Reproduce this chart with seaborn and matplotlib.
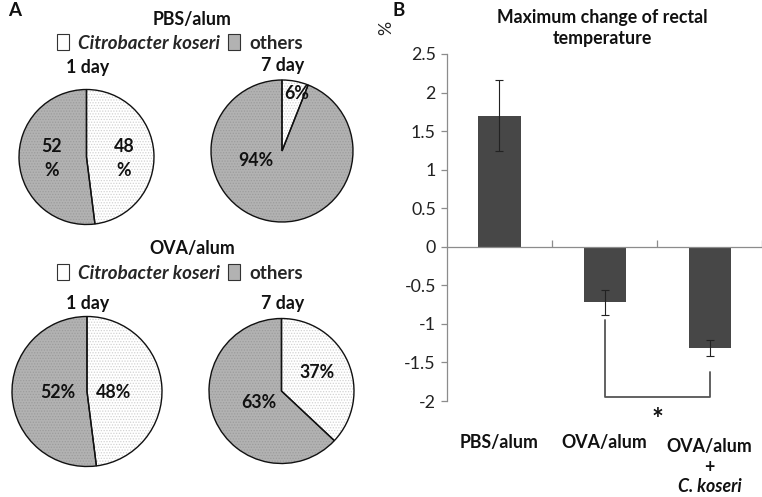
import matplotlib
matplotlib.use("Agg")
import matplotlib.pyplot as plt
import matplotlib.patches as mpatches
import seaborn as sns
import pandas as pd
import numpy as np

# ---------------- data ----------------
pie_groups = ["PBS/alum", "OVA/alum"]
pie_days = ["1 day", "7 day"]
pie_categories = ["Citrobacter koseri", "others"]
pbs_1day = [48, 52]
pbs_7day = [6, 94]
ova_1day = [48, 52]
ova_7day = [37, 63]

bar_groups = ["PBS/alum", "OVA/alum", "OVA/alum + C. koseri"]
bar_values = [1.70, -0.72, -1.31]
bar_errors = [0.46, 0.165, 0.10]
y_ticks = [-2, -1.5, -1, -0.5, 0, 0.5, 1, 1.5, 2, 2.5]

# ---------------- style ----------------
sns.set_theme(style="white")
plt.rcParams["font.family"] = ["Lato", "DejaVu Sans"]
plt.rcParams["hatch.linewidth"] = 0.6

W, H = 762, 497
fig = plt.figure(figsize=(W / 100, H / 100), dpi=100)

def fx(x):
    return x / W

def fy(y):
    return 1 - y / H

WHITE = "#ffffff"
GRAY = "#b2b2b2"
FS = 12.8


def draw_pie(values, cx, cy, r, label_texts, label_pos):
    ax = fig.add_axes([fx(cx - r - 2), fy(cy + r + 2), (2 * r + 4) / W, (2 * r + 4) / H])
    lim = (r + 2) / r
    # textured fill
    wedges, _ = ax.pie(values, colors=[WHITE, GRAY], startangle=90, counterclock=False,
                       wedgeprops=dict(linewidth=0, hatch="......", edgecolor="#9a9a9a"))
    wedges[0].set_edgecolor("#d2d2d2")
    wedges[1].set_edgecolor("#9c9c9c")
    # outlines
    ax.pie(values, colors=["none", "none"], startangle=90, counterclock=False,
           wedgeprops=dict(linewidth=1.0, edgecolor="#111111", fill=False))
    ax.set_xlim(-lim, lim)
    ax.set_ylim(-lim, lim)
    ax.set_aspect("equal")
    ax.axis("off")
    for txt, (px, py) in zip(label_texts, label_pos):
        ax.text((px - cx) / r, (cy - py) / r, txt, ha="center", va="center",
                fontsize=FS, fontweight="bold", color="#111111", linespacing=1.5)


draw_pie(pbs_1day, 86.5, 157, 67.5,
         [f"{pbs_1day[0]}\n%", f"{pbs_1day[1]}\n%"], [(124, 158), (52, 158)])
draw_pie(pbs_7day, 282, 151, 71,
         [f"{pbs_7day[0]}%", f"{pbs_7day[1]}%"], [(297, 93), (256, 160)])
draw_pie(ova_1day, 87, 391.5, 75,
         [f"{ova_1day[0]}%", f"{ova_1day[1]}%"], [(113, 393), (58, 393)])
draw_pie(ova_7day, 281.5, 391, 72.5,
         [f"{ova_7day[0]}%", f"{ova_7day[1]}%"], [(317, 373), (259, 402)])

# titles / legends for pies
TXT = dict(fontweight="bold", color="#111111")
fig.text(fx(8), fy(10), "A", fontsize=13.5, ha="left", va="center", **TXT)
fig.text(fx(393), fy(10), "B", fontsize=13.5, ha="left", va="center", **TXT)

for gname, ty, ly, dy1, dy7 in [(pie_groups[0], 20, 43, 68, 65),
                                (pie_groups[1], 249, 273, 303, 303)]:
    fig.text(fx(192), fy(ty), gname, fontsize=FS, ha="center", va="center", **TXT)
    handles = [mpatches.Patch(facecolor=WHITE, edgecolor="#333333", linewidth=0.8),
               mpatches.Patch(facecolor=GRAY, edgecolor="#333333", linewidth=0.8)]
    leg = fig.legend(handles, pie_categories, loc="center", bbox_to_anchor=(fx(180), fy(ly)),
                     ncol=2, frameon=False, handlelength=0.65, handleheight=0.95,
                     handletextpad=0.5, columnspacing=0.4,
                     prop=dict(weight="bold", size=13.5, family=["Lato", "DejaVu Sans"]))
    leg.get_texts()[0].set_style("italic")
    fig.text(fx(88), fy(dy1), pie_days[0], fontsize=FS, ha="center", va="center", **TXT)
    fig.text(fx(283), fy(dy7), pie_days[1], fontsize=FS, ha="center", va="center", **TXT)

# ---------------- bar chart ----------------
bx0, bx1, by0, by1 = 447, 762, 54, 401
ax = fig.add_axes([fx(bx0), fy(by1), (bx1 - bx0) / W, (by1 - by0) / H])
df = pd.DataFrame({"group": bar_groups, "value": bar_values, "err": bar_errors})
sns.barplot(data=df, x="group", y="value", color="#474747", width=0.4,
            errorbar=None, ax=ax, saturation=1, edgecolor="none")
ax.errorbar(np.arange(len(bar_values)), bar_values, yerr=bar_errors, fmt="none",
            ecolor="#222222", elinewidth=0.8, capsize=3, capthick=0.8)
ax.set_ylim(-2, 2.5)
ax.set_xlim(-0.5, 2.5)
ax.set_yticks(y_ticks)
ax.set_yticklabels([f"{t:g}" for t in y_ticks], fontsize=12.8, color="#222222")
ax.set_xlabel("")
ax.set_ylabel("")
for s in ["top", "right"]:
    ax.spines[s].set_visible(False)
ax.spines["left"].set_color("#8c8c8c")
ax.spines["bottom"].set_color("#8c8c8c")
ax.spines["left"].set_linewidth(0.9)
ax.spines["bottom"].set_linewidth(0.9)
ax.spines["bottom"].set_position(("data", 0))
ax.set_xticks([0.5, 1.5, 2.5])
ax.set_xticklabels([])
ax.tick_params(axis="x", direction="in", length=5, color="#8c8c8c", width=0.9, bottom=True)
ax.tick_params(axis="y", direction="out", length=4, color="#8c8c8c", width=0.9, left=True, pad=4)

# significance bracket
ax.plot([1, 1, 2, 2], [-0.95, -1.95, -1.95, -1.62], color="#555555", lw=1.3,
        clip_on=False)
ax.text(1.5, -2 - (420 - 401) / 77.1, "*", ha="center", va="center", fontsize=20,
        fontweight="bold", color="#111111")

# category labels
def py2d(p):
    return -2 - (p - 401) / 77.1

ax.text(0, py2d(442), bar_groups[0], ha="center", va="center", fontsize=FS, **TXT)
ax.text(1, py2d(442), bar_groups[1], ha="center", va="center", fontsize=FS, **TXT)
third = bar_groups[2].split(" + ")
ax.text(2, py2d(446), third[0], ha="center", va="center", fontsize=FS, **TXT)
ax.text(2, py2d(467), "+", ha="center", va="center", fontsize=FS, **TXT)
ax.text(2, py2d(486), third[1], ha="center", va="center", fontsize=FS,
        style="italic", **TXT)

fig.text(fx(602), fy(28), "Maximum change of rectal\ntemperature", ha="center",
         va="center", fontsize=FS, linespacing=1.35, **TXT)
fig.text(fx(386), fy(28), "%", ha="center", va="center", rotation=90, fontsize=12.8,
         color="#222222")

fig.savefig("out.png", dpi=100)
